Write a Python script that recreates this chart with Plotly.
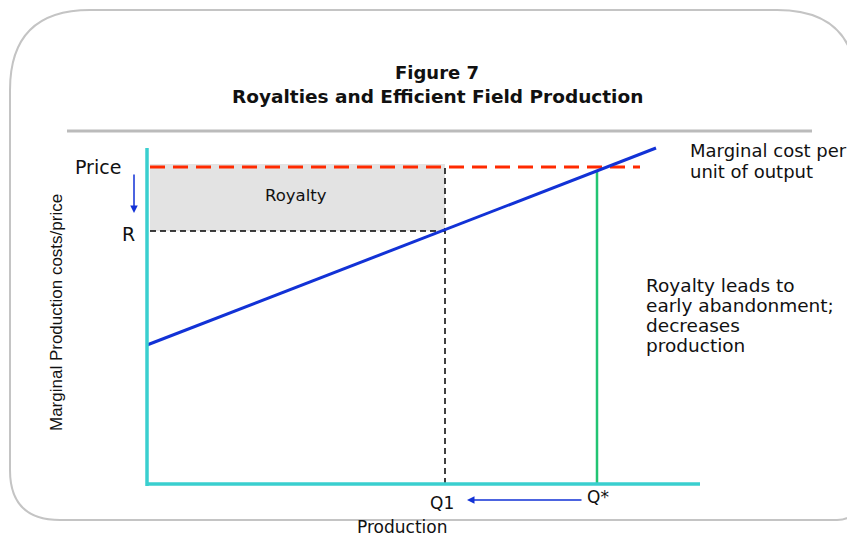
import plotly.graph_objects as go

# ---- diagram data (x: production units, y: cost/price units; origin at the axes corner)
price_level = 317          # world price
royalty_r = 253            # net price after royalty (R)
q1 = 298                   # production with royalty
q_star = 450               # efficient production
mc_x = [0, 509]            # marginal cost per unit of output
mc_y = [139, 336]
x_axis_end = 553
y_axis_top = 336
price_line_x = [3, 493]

title_lines = ["Figure 7", "Royalties and Efficient Field Production"]
note_lines = ["Royalty leads to", "early abandonment;", "decreases", "production"]
mc_label = ["Marginal cost per", "unit of output"]

CYAN = "#3ACFCF"
BLUE = "#1232D6"
RED = "#FF2A00"
GREEN = "#22C473"
TXT = "#111111"
SANS = "DejaVu Sans, Verdana, sans-serif"

fig = go.Figure()

# royalty shaded area
fig.add_trace(go.Scatter(x=[3, q1, q1, 3, 3], y=[royalty_r, royalty_r, price_level + 3, price_level + 3, royalty_r],
                         fill="toself", fillcolor="#E3E3E3", line=dict(width=0), mode="lines"))
# black dashed guides
fig.add_trace(go.Scatter(x=[3, q1], y=[royalty_r, royalty_r], mode="lines",
                         line=dict(color="black", width=1.5, dash="6px,4px")))
fig.add_trace(go.Scatter(x=[q1, q1], y=[0, price_level + 3], mode="lines",
                         line=dict(color="black", width=1.5, dash="6px,4px")))
# green Q* line
fig.add_trace(go.Scatter(x=[q_star, q_star], y=[0, price_level - 4], mode="lines",
                         line=dict(color=GREEN, width=2.5)))
# red price line
fig.add_trace(go.Scatter(x=price_line_x, y=[price_level, price_level], mode="lines",
                         line=dict(color=RED, width=3, dash="15px,8px")))
# marginal cost line
fig.add_trace(go.Scatter(x=mc_x, y=mc_y, mode="lines", line=dict(color=BLUE, width=3)))
# axes
fig.add_trace(go.Scatter(x=[0, 0], y=[-2, y_axis_top], mode="lines", line=dict(color=CYAN, width=3.5)))
fig.add_trace(go.Scatter(x=[0, x_axis_end], y=[0, 0], mode="lines", line=dict(color=CYAN, width=3.5)))

shapes = [
    # rounded frame
    dict(type="path", xref="x", yref="y",
         path="M -137,394 Q -137,474 -57,474 L 630,474 Q 710,474 710,394 "
              "L 710,-15 Q 710,-36 690,-36 L -87,-36 Q -137,-36 -137,14 Z",
         line=dict(color="#C4C4C4", width=2), fillcolor="rgba(0,0,0,0)", layer="below"),
    # separator
    dict(type="line", xref="x", yref="y", x0=-80, x1=665, y0=353, y1=353,
         line=dict(color="#BBBBBB", width=3)),
]

annotations = [
    dict(x=290, y=412, text="<b>" + title_lines[0] + "</b>", showarrow=False,
         font=dict(family=SANS, size=18, color=TXT)),
    dict(x=290, y=388, text="<b>" + title_lines[1] + "</b>", showarrow=False,
         font=dict(family=SANS, size=18.5, color=TXT)),
    dict(x=-24, y=317.5, text="Price", showarrow=False, xanchor="right",
         font=dict(family=SANS, size=19, color=TXT)),
    dict(x=-10, y=250, text="R", showarrow=False, xanchor="right",
         font=dict(family=SANS, size=19, color=TXT)),
    dict(x=q1 / 2, y=289, text="Royalty", showarrow=False,
         font=dict(family=SANS, size=16.5, color=TXT)),
    dict(x=q1 - 3, y=-19, text="Q1", showarrow=False,
         font=dict(family=SANS, size=17, color=TXT)),
    dict(x=q_star + 1, y=-13, text="Q*", showarrow=False,
         font=dict(family=SANS, size=17, color=TXT)),
    dict(x=255, y=-43, text="Production", showarrow=False,
         font=dict(family=SANS, size=17, color=TXT)),
    dict(x=-91, y=171, text="Marginal Production costs/price", showarrow=False, textangle=-90,
         font=dict(family="Liberation Sans, Arial", size=17, color=TXT)),
    # Q* -> Q1 arrow
    dict(x=q1 + 22, y=-16, ax=q_star - 14, ay=-16, axref="x", ayref="y", xref="x", yref="y",
         text="", showarrow=True, arrowhead=2, arrowsize=1, arrowwidth=1.5, arrowcolor=BLUE),
    # Price -> R arrow
    dict(x=-13, y=271, ax=-13, ay=311, axref="x", ayref="y", xref="x", yref="y",
         text="", showarrow=True, arrowhead=2, arrowsize=1, arrowwidth=1.5, arrowcolor=BLUE),
]
for i, line in enumerate(mc_label):
    annotations.append(dict(x=541, y=334 - 21 * i, text=line, showarrow=False, xanchor="left",
                            font=dict(family=SANS, size=18, color=TXT)))
for i, line in enumerate(note_lines):
    annotations.append(dict(x=497, y=199 - 20 * i, text=line, showarrow=False, xanchor="left",
                            font=dict(family=SANS, size=18.5, color=TXT)))

# page body has an 8px margin: figure is drawn 8px in from the top-left corner
fig.update_layout(
    width=847, height=529, margin=dict(l=0, r=0, t=0, b=0),
    paper_bgcolor="white", plot_bgcolor="white", showlegend=False,
    xaxis=dict(range=[-139, 708], visible=False, fixedrange=True),
    yaxis=dict(range=[-53, 476], visible=False, fixedrange=True),
    shapes=shapes, annotations=annotations,
)
fig.update_traces(hoverinfo="skip")

fig.write_html("out.html")
